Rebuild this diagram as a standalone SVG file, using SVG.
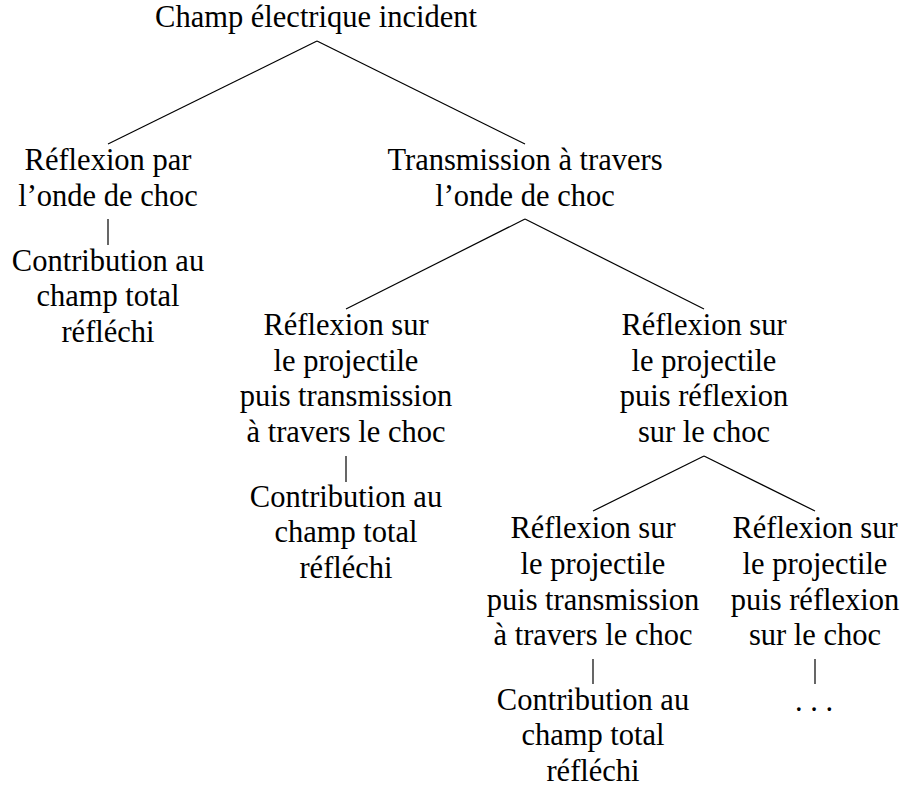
<svg xmlns="http://www.w3.org/2000/svg" width="901" height="787" viewBox="0 0 901 787">
<style>
text{font-family:"Liberation Serif","Times New Roman",serif;font-size:30.5px;fill:#000;text-anchor:middle}
line{stroke:#000;stroke-width:1.2}
</style>
<rect width="901" height="787" fill="#fff"/>
<g id="connectors">
<line x1="317" y1="41" x2="108" y2="144"/>
<line x1="317" y1="41" x2="525" y2="144"/>
<line x1="108" y1="219" x2="108" y2="245"/>
<line x1="525" y1="219" x2="346" y2="309"/>
<line x1="525" y1="219" x2="704" y2="309"/>
<line x1="346" y1="456" x2="346" y2="482"/>
<line x1="704" y1="456" x2="593" y2="511"/>
<line x1="704" y1="456" x2="815" y2="511"/>
<line x1="593" y1="659" x2="593" y2="684"/>
<line x1="815" y1="659" x2="815" y2="684"/>
</g>
<g id="root"><text x="316" y="27">Champ électrique incident</text></g>
<g id="reflexion-choc"><text x="108" y="170">Réflexion par</text><text x="108" y="206">l’onde de choc</text></g>
<g id="contrib1"><text x="108" y="271">Contribution au</text><text x="108" y="306">champ total</text><text x="108" y="342">réfléchi</text></g>
<g id="transmission"><text x="525" y="170">Transmission à travers</text><text x="525" y="206">l’onde de choc</text></g>
<g id="rp-transmission1"><text x="346" y="335">Réflexion sur</text><text x="346" y="371">le projectile</text><text x="346" y="406">puis transmission</text><text x="346" y="442">à travers le choc</text></g>
<g id="contrib2"><text x="346" y="507">Contribution au</text><text x="346" y="542">champ total</text><text x="346" y="578">réfléchi</text></g>
<g id="rp-reflexion1"><text x="704" y="335">Réflexion sur</text><text x="704" y="371">le projectile</text><text x="704" y="406">puis réflexion</text><text x="704" y="442">sur le choc</text></g>
<g id="rp-transmission2"><text x="593" y="538">Réflexion sur</text><text x="593" y="574">le projectile</text><text x="593" y="610">puis transmission</text><text x="593" y="645">à travers le choc</text></g>
<g id="contrib3"><text x="593" y="710">Contribution au</text><text x="593" y="745">champ total</text><text x="593" y="781">réfléchi</text></g>
<g id="rp-reflexion2"><text x="815" y="538">Réflexion sur</text><text x="815" y="574">le projectile</text><text x="815" y="610">puis réflexion</text><text x="815" y="645">sur le choc</text></g>
<g id="ellipsis"><text x="814" y="711">. . .</text></g>
</svg>
